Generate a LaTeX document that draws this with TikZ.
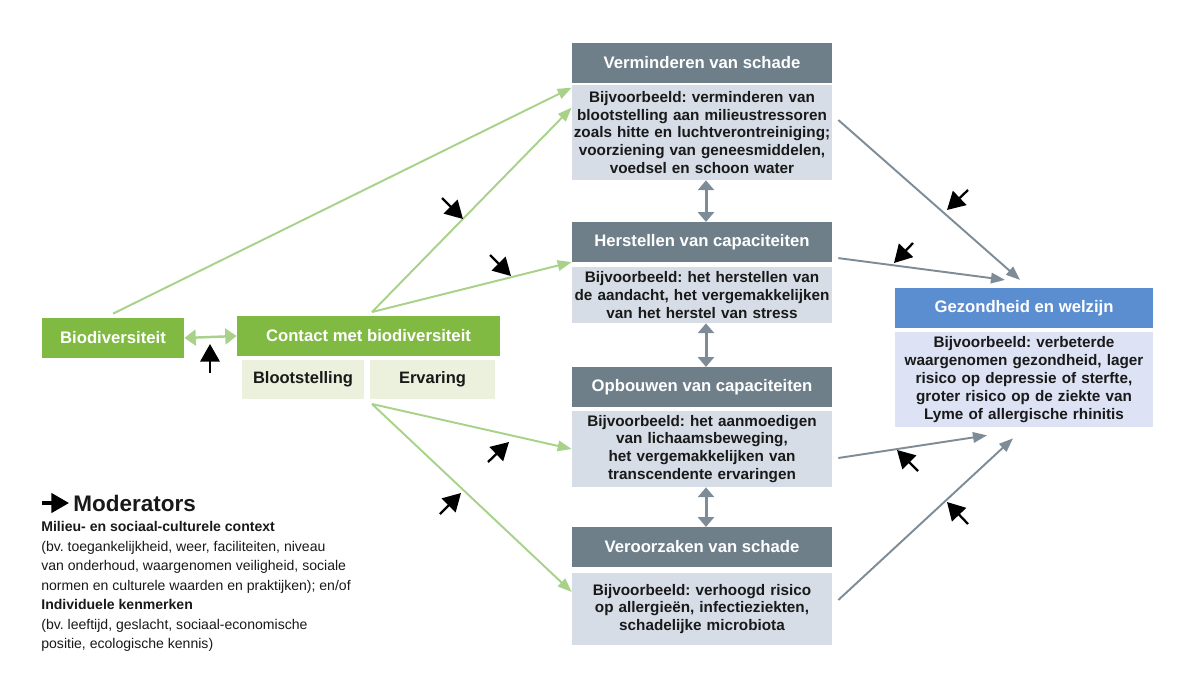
\documentclass[tikz,border=0pt]{standalone}
\usepackage{fontspec}
\setmainfont{Liberation Sans}
\usetikzlibrary{arrows.meta}
\definecolor{groen}{RGB}{128,186,66}
\definecolor{lichtgroen}{RGB}{168,210,138}
\definecolor{bleekgroen}{RGB}{236,241,221}
\definecolor{grijs}{RGB}{110,127,138}
\definecolor{grijslicht}{RGB}{214,221,231}
\definecolor{pijlgrijs}{RGB}{125,140,150}
\definecolor{blauw}{RGB}{91,142,208}
\definecolor{blauwlicht}{RGB}{221,227,244}
\definecolor{tekst}{RGB}{25,25,25}
\frenchspacing

\begin{document}
\begin{tikzpicture}[x=0.02cm,y=-0.02cm,
        kop/.style={fill=grijs,text=white,font=\fontsize{9.5}{11}\selectfont\bfseries,minimum width=5.2cm,minimum height=0.79cm,inner sep=0},
        romp/.style={fill=grijslicht,text=tekst,font=\fontsize{8.7}{10.2}\selectfont\bfseries,text width=5.2cm,align=center,inner sep=0},
        groenvak/.style={fill=groen,text=white,font=\fontsize{9.5}{11}\selectfont\bfseries,minimum height=0.8cm,inner sep=0},
        bleekvak/.style={fill=bleekgroen,text=tekst,font=\fontsize{9.4}{11}\selectfont\bfseries,minimum height=0.78cm,inner sep=0},
        groenpijl/.style={draw=lichtgroen,line width=1.1pt,-{Triangle[length=8pt,width=6pt]}},
        grijspijl/.style={draw=pijlgrijs,line width=1.1pt,-{Triangle[length=8pt,width=6pt]}},
        duopijl/.style={draw=pijlgrijs,line width=1.7pt,{Triangle[length=5.5pt,width=9pt]}-{Triangle[length=5.5pt,width=9pt]}},
        moderator/.style={draw=black,line width=1.3pt,-{Triangle[length=10pt,width=11pt]}}]
        \useasboundingbox (0,0) rectangle (1200,687);

        % linkerkant
        \node[groenvak,minimum width=2.84cm] (bio) at (113,338) {Biodiversiteit};
        \node[groenvak,minimum width=5.26cm] (contact) at (368.5,336) {Contact met biodiversiteit};
        \node[bleekvak,minimum width=2.44cm] (bloot) at (303,379.5) {Blootstelling};
        \node[bleekvak,minimum width=2.5cm] (erv) at (432.5,379.5) {Ervaring};
        \coordinate (ctop) at (372,312);
        \coordinate (cbot) at (372,404);

        % middelste kolom
        \node[kop] (vermh) at (702,63) {Verminderen van schade};
        \node[romp,minimum height=1.9cm] (vermb) at (702,132.5) {Bijvoorbeeld: verminderen van\\blootstelling aan milieustressoren\\zoals hitte en luchtverontreiniging;\\voorziening van geneesmiddelen,\\voedsel en schoon water};
        \node[kop] (herh) at (702,242) {Herstellen van capaciteiten};
        \node[romp,minimum height=1.12cm] (herb) at (702,295) {Bijvoorbeeld: het herstellen van\\de aandacht, het vergemakkelijken\\van het herstel van stress};
        \node[kop] (opbh) at (702,387) {Opbouwen van capaciteiten};
        \node[romp,minimum height=1.52cm] (opbb) at (702,449) {Bijvoorbeeld: het aanmoedigen\\van lichaamsbeweging,\\het vergemakkelijken van\\transcendente ervaringen};
        \node[kop] (verh) at (702,547) {Veroorzaken van schade};
        \node[romp,minimum height=1.44cm] (verb) at (702,609) {Bijvoorbeeld: verhoogd risico\\op allergieën, infectieziekten,\\schadelijke microbiota};

        % rechterkant
        \node[kop,fill=blauw,minimum width=5.16cm] (gezh) at (1024,308) {Gezondheid en welzijn};
        \node[romp,fill=blauwlicht,text width=5.16cm,minimum height=1.9cm] (gezb) at (1024,379.5) {Bijvoorbeeld: verbeterde\\waargenomen gezondheid, lager\\risico op depressie of sterfte,\\groter risico op de ziekte van\\Lyme of allergische rhinitis};

        % verbindingen
        \draw[draw=lichtgroen,line width=1.4pt,{Triangle[length=6.5pt,width=9pt]}-{Triangle[length=6.5pt,width=9pt]}] (bio.east) -- (contact.west);
        \draw[groenpijl] ([yshift=0.08cm]bio.north) -- ([yshift=-0.06cm]vermb.north west);
        \draw[groenpijl] (ctop) -- ([yshift=-0.46cm]vermb.north west);
        \draw[groenpijl] (ctop) -- (herh.south west);
        \draw[groenpijl] (cbot) -- (opbb.west);
        \draw[groenpijl] (cbot) -- ([yshift=0.34cm]verb.west);
        \draw[duopijl] ([xshift=0.08cm]vermb.south) -- ([xshift=0.08cm]herh.north);
        \draw[duopijl] ([xshift=0.08cm]herb.south) -- ([xshift=0.08cm]opbh.north);
        \draw[duopijl] ([xshift=0.08cm]opbb.south) -- ([xshift=0.08cm]verh.north);
        \draw[grijspijl] ([xshift=0.12cm,yshift=0.25cm]vermb.east) -- ([xshift=-0.08cm,yshift=0.16cm]gezh.north);
        \draw[grijspijl] ([xshift=0.12cm,yshift=0.08cm]herh.south east) -- ([xshift=-0.38cm,yshift=0.16cm]gezh.north);
        \draw[grijspijl] ([xshift=0.12cm,yshift=-0.18cm]opbb.east) -- ([xshift=-0.74cm,yshift=-0.16cm]gezb.south);
        \draw[grijspijl] ([xshift=0.12cm,yshift=0.18cm]verb.east) -- ([xshift=-0.22cm,yshift=-0.22cm]gezb.south);

        % moderatoren
        \draw[moderator] (210,373) -- (210,344);
        \draw[moderator] (442,198) -- (463,219);
        \draw[moderator] (490,255) -- (511,276);
        \draw[moderator] (488,462) -- (509,442);
        \draw[moderator] (440,514) -- (461,493);
        \draw[moderator] (968,190) -- (947,210);
        \draw[moderator] (913,243) -- (894,263);
        \draw[moderator] (918,471) -- (897,450);
        \draw[moderator] (968,524) -- (947,502);

        % legenda
        \draw[moderator,line width=1.8pt] (42,503) -- (69,503);
        \node[anchor=west,inner sep=0,font=\fontsize{12.8}{14}\selectfont\bfseries,text=tekst] (modtitel) at (73,503) {Moderators};
        \node[anchor=north west,inner sep=0,align=left,text=tekst,font=\fontsize{8}{11.1}\selectfont] (legenda) at (41,521) {\textbf{Milieu- en sociaal-culturele context}\\(bv. toegankelijkheid, weer, faciliteiten, niveau\\van onderhoud, waargenomen veiligheid, sociale\\normen en culturele waarden en praktijken); en/of\\\textbf{Individuele kenmerken}\\(bv. leeftijd, geslacht, sociaal-economische\\positie, ecologische kennis)};
    \end{tikzpicture}
\end{document}
